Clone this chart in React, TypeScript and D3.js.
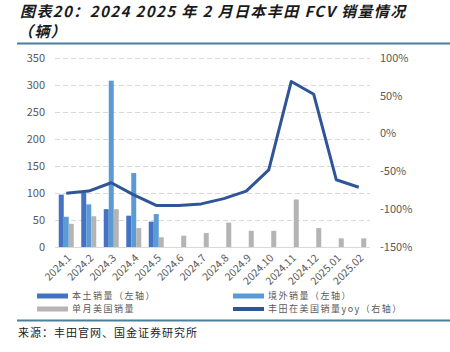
import React, { useEffect, useRef } from 'react';
import * as d3 from 'd3';

const months = ['2024.1', '2024.2', '2024.3', '2024.4', '2024.5', '2024.6', '2024.7', '2024.8', '2024.9', '2024.10', '2024.11', '2024.12', '2025.01', '2025.02'];
const domestic: (number | null)[] = [97, 101, 70, 58, 47, null, null, null, null, null, null, null, null, null];
const overseas: (number | null)[] = [56, 79, 308, 137, 61, null, null, null, null, null, null, null, null, null];
const usMonthly = [43, 57, 70, 35, 18, 21, 26, 45, 30, 30, 88, 35, 16, 16];
const usYoy = [-79, -76, -65, -81, -95, -95, -93, -86, -76, -48, 69, 52, -61, -71];
const leftTicks = [0, 50, 100, 150, 200, 250, 300, 350];
const rightTicks = [-150, -100, -50, 0, 50, 100];

const seriesNames = ['本土销量（左轴）', '境外销量（左轴）', '单月美国销量', '丰田在美国销量yoy（右轴）'];
const colors = ['#4472C4', '#5B9BD5', '#B4B4B4', '#2F5597'];

const App = () => {
    const svgRef = useRef<SVGSVGElement>(null);

    useEffect(() => {
        const width = 450;
        const height = 352;
        const margin = { top: 58, right: 80, bottom: 105, left: 55 };
        const innerWidth = width - margin.left - margin.right;
        const innerHeight = height - margin.top - margin.bottom;

        const svg = d3.select(svgRef.current);
        svg.selectAll('*').remove();
        svg.attr('width', width).attr('height', height);

        const font = '"Noto Sans CJK SC", "Noto Sans", sans-serif';

        // title
        const titleLines = ['图表20：2024 2025 年 2 月日本丰田 FCV 销量情况', '（辆）'];
        svg.selectAll('.title')
            .data(titleLines)
            .enter()
            .append('text')
            .attr('x', (d, i) => (i === 0 ? 20 : 18))
            .attr('y', (d, i) => 17 + i * 20)
            .style('font-family', font)
            .style('font-size', '15px')
            .style('font-weight', 'bold')
            .style('font-style', 'italic')
            .style('letter-spacing', '1.4px')
            .attr('fill', '#1a1a1a')
            .text(d => d);

        svg.append('line')
            .attr('x1', 17).attr('x2', 450)
            .attr('y1', 43.5).attr('y2', 43.5)
            .attr('stroke', '#4A7FA0').attr('stroke-width', 2);
        svg.append('line')
            .attr('x1', 17).attr('x2', 450)
            .attr('y1', 320.5).attr('y2', 320.5)
            .attr('stroke', '#4A7FA0').attr('stroke-width', 2);

        svg.append('text')
            .attr('x', 18)
            .attr('y', 337)
            .style('font-family', font)
            .style('font-size', '11px')
            .style('letter-spacing', '1px')
            .attr('fill', '#222')
            .text('来源：丰田官网、国金证券研究所');

        const g = svg.append('g')
            .attr('transform', `translate(${margin.left},${margin.top})`);

        const x = d3.scaleBand().domain(months).range([0, innerWidth]);
        const xInner = d3.scaleBand<number>().domain([0, 1, 2]).range([-7.5, 7.5]);
        const yL = d3.scaleLinear().domain([0, 350]).range([innerHeight, 0]);
        const yR = d3.scaleLinear().domain([-150, 100]).range([innerHeight, 0]);

        // grid
        g.selectAll('.grid')
            .data(leftTicks.slice(1))
            .enter()
            .append('line')
            .attr('x1', 0).attr('x2', innerWidth)
            .attr('y1', d => Math.round(yL(d)) + 0.5)
            .attr('y2', d => Math.round(yL(d)) + 0.5)
            .attr('stroke', '#D9D9D9')
            .attr('stroke-dasharray', '5,3');

        // left axis labels
        g.selectAll('.lt')
            .data(leftTicks)
            .enter()
            .append('text')
            .attr('x', -10)
            .attr('y', d => yL(d))
            .attr('dy', '0.35em')
            .attr('text-anchor', 'end')
            .style('font-family', font)
            .style('font-size', '11px')
            .attr('fill', '#595959')
            .text(d => d);

        // right axis labels
        g.selectAll('.rt')
            .data(rightTicks)
            .enter()
            .append('text')
            .attr('x', innerWidth + 10)
            .attr('y', d => yR(d))
            .attr('dy', '0.35em')
            .style('font-family', font)
            .style('font-size', '11px')
            .attr('fill', '#595959')
            .text(d => `${d}%`);

        const bars = [domestic, overseas, usMonthly];
        bars.forEach((series, si) => {
            g.selectAll(`.bar${si}`)
                .data(months.map((m, i) => ({ m, v: series[i] })).filter(d => d.v != null))
                .enter()
                .append('rect')
                .attr('x', d => (x(d.m) as number) + x.bandwidth() / 2 + (xInner(si) as number))
                .attr('width', xInner.bandwidth())
                .attr('y', d => yL(d.v as number))
                .attr('height', d => innerHeight - yL(d.v as number))
                .attr('fill', colors[si]);
        });

        // baseline
        g.append('line')
            .attr('x1', 0).attr('x2', innerWidth)
            .attr('y1', innerHeight + 0.5).attr('y2', innerHeight + 0.5)
            .attr('stroke', '#D9D9D9');

        // yoy line
        const line = d3.line<number>()
            .x((d, i) => (x(months[i]) as number) + x.bandwidth() / 2)
            .y(d => yR(d));
        g.append('path')
            .datum(usYoy)
            .attr('d', line)
            .attr('fill', 'none')
            .attr('stroke', colors[3])
            .attr('stroke-width', 3)
            .attr('stroke-linejoin', 'round');

        // x labels
        g.selectAll('.xl')
            .data(months)
            .enter()
            .append('text')
            .attr('transform', d => `translate(${(x(d) as number) + x.bandwidth() / 2 + 3},${innerHeight + 9}) rotate(-45)`)
            .attr('text-anchor', 'end')
            .attr('dy', '0.35em')
            .style('font-family', font)
            .style('font-size', '10.5px')
            .attr('fill', '#595959')
            .text(d => d);

        // legend
        const legendItems = [
            { x: 37, y: 296, i: 0 },
            { x: 233, y: 296, i: 1 },
            { x: 37, y: 309, i: 2 },
            { x: 233, y: 309, i: 3 },
        ];
        const lg = svg.append('g')
            .selectAll('g')
            .data(legendItems)
            .enter()
            .append('g')
            .attr('transform', d => `translate(${d.x},${d.y})`);
        lg.append('rect')
            .attr('x', 0)
            .attr('y', d => (d.i === 3 ? -2 : -2.5))
            .attr('width', 31)
            .attr('height', d => (d.i === 3 ? 4 : 5))
            .attr('fill', d => colors[d.i]);
        lg.append('text')
            .attr('x', 35)
            .attr('dy', '0.35em')
            .style('font-family', font)
            .style('font-size', '9px')
            .style('letter-spacing', '1.5px')
            .attr('fill', '#595959')
            .text(d => seriesNames[d.i]);
    }, []);

    return (
        <div style={{ position: 'absolute', left: 0, top: 0 }}>
            <svg ref={svgRef}></svg>
        </div>
    );
};

export default App;
